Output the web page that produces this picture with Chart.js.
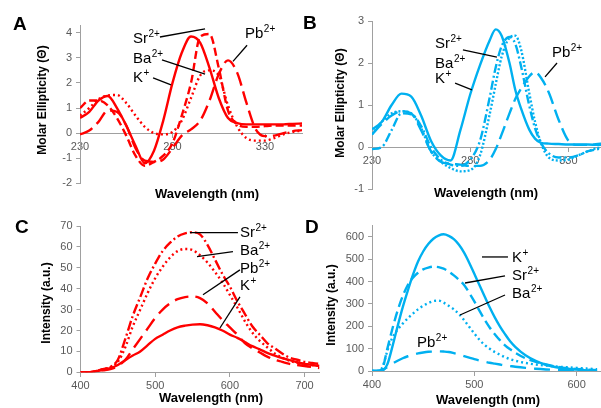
<!DOCTYPE html>
<html><head><meta charset="utf-8">
<script src="https://cdn.jsdelivr.net/npm/chart.js@4.4.1/dist/chart.umd.min.js"></script>
<style>
html,body{margin:0;padding:0;background:#fff;overflow:hidden;width:601px;height:408px;position:relative}
canvas{position:absolute}
</style></head><body>
<canvas id="cA" width="305" height="206" style="left:0px;top:0px"></canvas>
<canvas id="cB" width="315" height="206" style="left:300px;top:0px"></canvas>
<canvas id="cC" width="325" height="204" style="left:0px;top:204px"></canvas>
<canvas id="cD" width="310" height="204" style="left:300px;top:204px"></canvas>
<script>
// ---------- categories ----------
const ions = ['K', 'Sr', 'Ba', 'Pb'];
const charges = ['+', '2+', '2+', '2+'];

// ---------- Panel A (CD, red) ----------
const aWavelength = [230,235,240,245,250,255,260,265,270,275,280,285,290,295,300,305,310,315,320,325,330,335,340,345,350];
const aK  = [0.6,0.85,1.3,1.48,1.0,0.3,-0.5,-1.2,-0.7,0.5,2.0,3.2,3.85,3.6,2.6,1.4,0.6,0.4,0.35,0.35,0.35,0.35,0.35,0.37,0.38];
const aSr = [1.0,1.3,1.3,1.1,0.6,-0.1,-0.9,-1.3,-1.15,-0.9,-0.4,0.7,2.0,3.85,3.95,2.6,0.9,0.35,0.25,0.25,0.28,0.3,0.3,0.3,0.3];
const aBa = [0.7,1.0,1.35,1.5,1.52,1.2,0.7,0.25,0.0,-0.05,0.05,0.5,1.4,2.3,2.5,2.3,1.1,0.25,-0.2,-0.3,-0.3,-0.2,-0.05,0.05,0.1];
const aPb = [-0.05,0.1,0.45,0.9,0.85,0.3,-0.6,-1.1,-1.15,-1.05,-0.6,-0.1,0.15,0.5,1.3,2.35,2.9,2.4,1.2,0.15,-0.12,-0.1,0.0,0.08,0.12];
const aTicksX = [230, 280, 330];
const aTicksY = [-2, -1, 0, 1, 2, 3, 4];

// ---------- Panel B (CD, blue) ----------
const bWavelength = [230,235,240,245,250,255,260,265,270,275,280,285,290,293,296,300,303,306,310,313,316,320,325,330,335,340,345,350];
const bK  = [0.42,0.6,1.0,1.27,1.2,0.75,0.15,-0.2,-0.32,0.4,1.25,1.95,2.55,2.8,2.65,2.0,1.35,0.9,0.42,0.2,0.1,0.08,0.07,0.06,0.06,0.06,0.05,0.05];
const bSr = [-0.05,0,0.4,0.8,0.78,0.5,0,-0.3,-0.42,-0.45,-0.3,0.15,1.2,1.9,2.4,2.62,2.45,1.9,1.0,0.45,0.1,-0.15,-0.25,-0.25,-0.2,-0.1,-0.05,0];
const bBa = [0.3,0.6,0.8,0.85,0.8,0.45,-0.1,-0.35,-0.5,-0.58,-0.55,-0.2,0.8,1.5,2.15,2.6,2.65,2.3,1.3,0.6,0.1,-0.25,-0.32,-0.3,-0.2,-0.1,-0.02,0];
const bPb = [0.3,0.55,0.75,0.85,0.8,0.4,-0.1,-0.35,-0.4,-0.42,-0.45,-0.45,-0.3,-0.05,0.3,0.8,1.15,1.4,1.68,1.78,1.65,1.3,0.65,0.15,0.05,0.05,0.07,0.1];
const bTicksX = [230, 280, 330];
const bTicksY = [-1, 0, 1, 2, 3];

// ---------- Panel C (fluorescence, red) ----------
const cWavelength = [400,410,420,430,440,450,460,470,480,490,500,510,520,530,540,550,560,570,580,590,600,610,620,630,640,650,660,670,680,690,700,710,720];
const cK  = [0,0,0.5,1.2,2,3.5,5.8,8,10,13,16,18,20,21.5,22.3,22.8,23,22.5,21.5,20,18,16.5,14.5,12.5,11,9.3,8,6.8,5.8,4.8,4,3.5,3];
const cSr = [0,0,0.5,1.5,2.5,6,16,27,36,45,52,58,62,65,66.5,67,66,61,54,47,41,34,28,22,18,14,11.5,9,7,6,5,4.5,4];
const cBa = [0,0,0.5,1.5,2.5,5,12,22,30,38,45,50.5,55,58,59,58.5,56,52.5,48,43,37,31,24.5,19,15,12,9,7,5.5,4.5,4,3.5,3];
const cPb = [0,0,0.5,1,1.5,3,6,11,16,21,26,30,33,35,36,36.3,35.5,33,29,25,21.5,18,14,11.5,9.5,7.5,6,5,4,3.5,3,2.5,2];
const cTicksX = [400, 500, 600, 700];
const cTicksY = [0, 10, 20, 30, 40, 50, 60, 70];

// ---------- Panel D (fluorescence, blue) ----------
const dWavelength = [400,405,410,415,420,425,430,435,440,445,450,455,460,465,470,475,480,485,490,495,500,505,510,515,520,525,530,535,540,550,560,570,580,590,600,610,620];
const dK  = [0,0,2,30,110,200,285,360,430,490,535,568,592,606,612,605,590,565,530,485,435,385,335,285,240,200,165,133,108,70,45,28,17,10,6,3,1];
const dSr = [0,0,10,100,190,270,335,385,418,440,455,463,467,465,458,445,428,408,385,350,312,270,230,195,165,138,115,97,82,57,41,29,20,13,9,6,4];
const dBa = [0,0,15,90,150,185,212,236,257,276,292,304,313,315,306,292,276,255,228,198,168,140,117,100,85,73,62,53,46,36,29,24,20,17,14,11,8];
const dPb = [0,0,5,18,33,46,57,66,73,79,83,86,87,88,87,85,80,74,67,60,53,47,42,37,33,29,25,22,19,14,10,7,5,3,2,1,0];
const dTicksX = [400, 500, 600];
const dTicksY = [0, 100, 200, 300, 400, 500, 600];

// ---------- text ----------
const cdTitle = 'Molar Ellipticity (\u0398)';
const flTitle = 'Intensity (a.u.)';
const wlTitle = 'Wavelength (nm)';

const FONT = "'Liberation Sans', Arial, Helvetica, sans-serif";
Chart.defaults.font.family = FONT;

const RED = '#ff0000';
const BLUE = '#00b0f0';
const AXIS = '#a0a0a0';

function decor(o) {
  return {
    id: 'decor' + o.id,
    afterDraw(chart) {
      const ctx = chart.ctx;
      const xs = chart.scales.x, ys = chart.scales.y;
      ctx.save();
      ctx.fillStyle = '#000';
      ctx.textAlign = 'left';
      ctx.textBaseline = 'alphabetic';
      ctx.font = 'bold 19px ' + FONT;
      ctx.fillText(o.letter, o.letterPos[0] - o.left, o.letterPos[1] - o.top);
      ctx.font = 'bold 13px ' + FONT;
      ctx.textAlign = 'center';
      ctx.fillText(wlTitle, o.xTitlePos[0] - o.left, o.xTitlePos[1] - o.top);
      ctx.save();
      ctx.translate(o.yTitlePos[0] - o.left, o.yTitlePos[1] - o.top);
      ctx.rotate(-Math.PI / 2);
      ctx.textBaseline = 'middle';
      ctx.font = 'bold 12px ' + FONT;
      ctx.fillText(o.yTitle, 0, 0);
      ctx.restore();
      ctx.strokeStyle = '#000';
      ctx.lineWidth = 1.3;
      ctx.textAlign = 'left';
      o.notes.forEach(n => {
        const idx = ions.indexOf(n.ion);
        if (n.lead) {
          ctx.beginPath();
          ctx.moveTo(xs.getPixelForValue(n.lead[0]), ys.getPixelForValue(n.lead[1]));
          ctx.lineTo(xs.getPixelForValue(n.lead[2]), ys.getPixelForValue(n.lead[3]));
          ctx.stroke();
        }
        const px = xs.getPixelForValue(n.x), py = ys.getPixelForValue(n.y);
        ctx.font = '15px ' + FONT;
        ctx.fillText(ions[idx], px, py);
        const w = ctx.measureText(ions[idx]).width;
        ctx.font = '10px ' + FONT;
        ctx.fillText(charges[idx], px + w + 0.5, py - 6);
      });
      ctx.restore();
    }
  };
}

function makeChart(o) {
  const styles = {K: [], Sr: o.dashes[0], Ba: o.dashes[1], Pb: o.dashes[2]};
  const datasets = o.series.map((vals, i) => ({
    label: ions[i],
    data: o.x.map((xv, j) => ({x: xv, y: vals[j]})),
    borderColor: o.color,
    borderWidth: 2.4,
    borderDash: styles[ions[i]],
    borderCapStyle: 'butt',
    pointRadius: 0,
    fill: false,
    cubicInterpolationMode: 'monotone'
  }));
  return new Chart(document.getElementById(o.id), {
    type: 'line',
    data: {datasets},
    options: {
      responsive: false, animation: false, devicePixelRatio: 1,
      layout: {padding: o.pad},
      plugins: {legend: {display: false}, tooltip: {enabled: false}, title: {display: false}},
      scales: {
        x: {
          type: 'linear', min: o.xMin, max: o.xMax, position: {y: 0},
          afterBuildTicks: s => { s.ticks = o.xTicks.map(v => ({value: v})); },
          grid: {drawOnChartArea: false, drawTicks: true, tickLength: 4, color: AXIS},
          border: {color: AXIS, width: 1},
          ticks: {color: '#595959', font: {size: 11}, padding: 3, maxRotation: 0, autoSkip: false}
        },
        y: {
          type: 'linear', position: 'left', min: o.yMin, max: o.yMax,
          afterBuildTicks: s => { s.ticks = o.yTicks.map(v => ({value: v})); },
          afterFit: s => { s.width = o.yw; },
          grid: {drawOnChartArea: false, drawTicks: true, tickLength: 4, color: AXIS},
          border: {color: AXIS, width: 1},
          ticks: {color: '#595959', font: {size: 11}, padding: 4}
        }
      }
    },
    plugins: [decor(o)]
  });
}

makeChart({
  id: 'cA', left: 0, top: 0, color: RED,
  x: aWavelength, series: [aK, aSr, aBa, aPb],
  dashes: [[8, 4], [2, 3], [14, 6]],
  xMin: 230, xMax: 350, yMin: -2, yMax: 4.3, xTicks: aTicksX, yTicks: aTicksY,
  yw: 80, pad: {left: 0, right: 3, top: 25.2, bottom: 22.7},
  letter: 'A', letterPos: [13, 30], xTitlePos: [207, 198], yTitlePos: [43, 100], yTitle: cdTitle,
  notes: [
    {ion: 'Sr', x: 258.6, y: 3.59, lead: [273.2, 3.83, 297.6, 4.15]},
    {ion: 'Ba', x: 258.6, y: 2.80, lead: [274.3, 2.92, 297.6, 2.35]},
    {ion: 'K',  x: 258.6, y: 2.04, lead: [269.5, 2.2, 279.2, 1.92]},
    {ion: 'Pb', x: 319.2, y: 3.79, lead: [320.3, 3.5, 312.7, 2.86]}
  ]
});

makeChart({
  id: 'cB', left: 300, top: 0, color: BLUE,
  x: bWavelength, series: [bK, bSr, bBa, bPb],
  dashes: [[9, 3, 2, 3], [2, 2], [14, 6]],
  xMin: 230, xMax: 350, yMin: -1, yMax: 3, xTicks: bTicksX, yTicks: bTicksY,
  yw: 72, pad: {left: 0, right: 7.3, top: 21, bottom: 17},
  letter: 'B', letterPos: [303, 29], xTitlePos: [486, 197], yTitlePos: [341, 103], yTitle: cdTitle,
  notes: [
    {ion: 'Sr', x: 262.1, y: 2.36, lead: [276.3, 2.31, 293.6, 2.14]},
    {ion: 'Ba', x: 262.1, y: 1.88},
    {ion: 'K',  x: 262.1, y: 1.52, lead: [272.3, 1.52, 280.9, 1.36]},
    {ion: 'Pb', x: 321.6, y: 2.14, lead: [324.2, 2.0, 318.1, 1.67]}
  ]
});

makeChart({
  id: 'cC', left: 0, top: 204, color: RED,
  x: cWavelength, series: [cK, cSr, cBa, cPb],
  dashes: [[10, 3, 2, 3], [2, 3], [14, 7]],
  xMin: 400, xMax: 720, yMin: 0, yMax: 70, xTicks: cTicksX, yTicks: cTicksY,
  yw: 80.5, pad: {left: 0, right: 5.5, top: 22, bottom: 35.7},
  letter: 'C', letterPos: [15, 233], xTitlePos: [211, 402], yTitlePos: [47, 303], yTitle: flTitle,
  notes: [
    {ion: 'Sr', x: 613.5, y: 64.9, lead: [546.6, 66.8, 610.8, 66.8]},
    {ion: 'Ba', x: 613.5, y: 56.3, lead: [556, 55.3, 604.1, 57.7]},
    {ion: 'Pb', x: 613.5, y: 47.6, lead: [564, 37.1, 613.5, 49.0]},
    {ion: 'K',  x: 613.5, y: 39.5, lead: [586.7, 21.2, 613.5, 36.1]}
  ]
});

makeChart({
  id: 'cD', left: 300, top: 204, color: BLUE,
  x: dWavelength, series: [dK, dSr, dBa, dPb],
  dashes: [[10, 5], [2, 3], [16, 8]],
  xMin: 400, xMax: 625, yMin: 0, yMax: 650, xTicks: dTicksX, yTicks: dTicksY,
  yw: 72, pad: {left: 0, right: 7.8, top: 21.8, bottom: 37},
  letter: 'D', letterPos: [305, 233], xTitlePos: [488, 404], yTitlePos: [332, 305], yTitle: flTitle,
  notes: [
    {ion: 'K',  x: 536.9, y: 488, lead: [507.5, 510.5, 532.9, 510.5]},
    {ion: 'Sr', x: 536.9, y: 407.5, lead: [490.9, 394, 530, 425.4]},
    {ion: 'Ba', x: 536.9, y: 327, lead: [486, 250.8, 530, 340.3]},
    {ion: 'Pb', x: 444, y: 107.5}
  ]
});
</script>
</body></html>
